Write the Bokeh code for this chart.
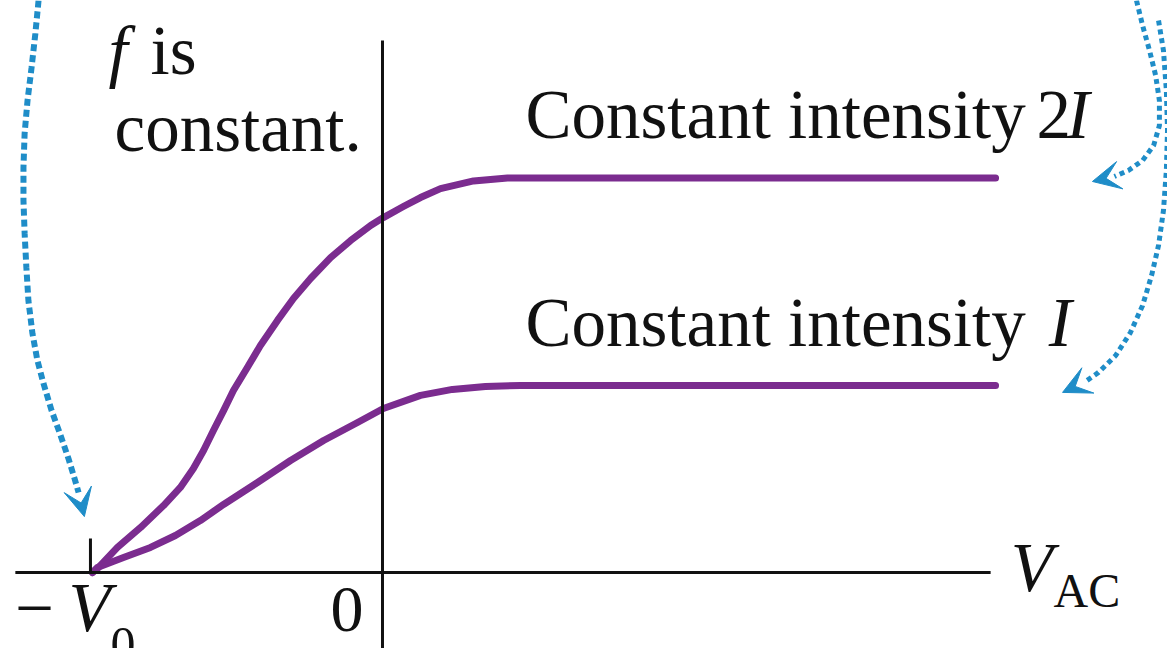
from bokeh.plotting import figure
from bokeh.models import Range1d, Label, Arrow, VeeHead
from bokeh.embed import file_html
from bokeh.resources import INLINE

# ---- data (V_AC in units of V0, current in units of the intensity-I saturation current) ----
v_2I = [-1.0, -0.983, -0.914, -0.834, -0.755, -0.697, -0.652, -0.617, -0.583, -0.548,
        -0.514, -0.466, -0.421, -0.362, -0.307, -0.248, -0.179, -0.110, -0.041, 0.003,
        0.072, 0.131, 0.200, 0.314, 0.431, 2.114]
i_2I = [0.0, 0.021, 0.134, 0.241, 0.358, 0.455, 0.556, 0.652, 0.759, 0.866,
        0.973, 1.096, 1.214, 1.348, 1.465, 1.572, 1.684, 1.775, 1.856, 1.898,
        1.957, 2.005, 2.053, 2.094, 2.110, 2.110]

v_I = [-1.0, -0.983, -0.893, -0.800, -0.714, -0.628, -0.548, -0.431, -0.317, -0.203,
       -0.086, 0.003, 0.131, 0.241, 0.355, 0.476, 2.114]
i_I = [0.0, 0.027, 0.080, 0.134, 0.198, 0.278, 0.364, 0.481, 0.599, 0.706,
       0.802, 0.877, 0.947, 0.979, 0.995, 1.0, 1.0]

stop_voltage = -1.0          # -V0
axis_labels = ["\u2212", "V", "0", "0", "V", "AC"]
curve_labels = ["Constant intensity", "2", "I", "Constant intensity", "I"]
note_labels = ["f", "is", "constant."]

# annotation arrow paths (blue dotted pointers)
arrowL_x = [-1.186, -1.197, -1.210, -1.224, -1.234, -1.238, -1.238, -1.234, -1.228, -1.221,
            -1.207, -1.190, -1.169, -1.141, -1.110, -1.083, -1.062, -1.048]
arrowL_y = [3.059, 2.882, 2.701, 2.524, 2.348, 2.166, 1.989, 1.813, 1.631, 1.455,
            1.278, 1.134, 1.011, 0.866, 0.733, 0.610, 0.503, 0.428]
arrowL_tip = (-1.028, 0.299)

arrowA_x = [2.600, 2.621, 2.645, 2.666, 2.679, 2.679, 2.659, 2.621, 2.572, 2.524]
arrowA_y = [3.059, 2.925, 2.791, 2.658, 2.524, 2.390, 2.283, 2.203, 2.150, 2.118]
arrowA_tip = (2.448, 2.091)

arrowB_x = [2.676, 2.693, 2.703, 2.707, 2.703, 2.693, 2.676, 2.652, 2.621, 2.579, 2.528, 2.469, 2.424]
arrowB_y = [2.952, 2.791, 2.578, 2.364, 2.150, 1.936, 1.749, 1.588, 1.428, 1.283, 1.160, 1.070, 1.021]
arrowB_tip = (2.345, 0.963)

# ---- styling ----
PURPLE = "#7B2C8F"
BLUE = "#1F8DC8"
INK = "#111111"
SERIF = "Liberation Serif"
PX_PER_Y = 187.0   # used only to nudge text baselines

p = figure(width=1167, height=648,
           x_range=Range1d(-1.3172, 2.7069), y_range=Range1d(-0.4064, 3.0588),
           output_backend="svg", toolbar_location=None,
           x_axis_location=None, y_axis_location=None, min_border=0)
p.grid.visible = False
p.outline_line_color = None
p.background_fill_color = "white"
p.border_fill_color = "white"

# curves
p.line(v_2I, i_2I, line_color=PURPLE, line_width=7, line_join="round", line_cap="round")
p.line(v_I, i_I, line_color=PURPLE, line_width=7, line_join="round", line_cap="round")

# axes
p.line([-1.266, 2.097], [0, 0], line_color=INK, line_width=3)
p.line([0, 0], [-0.6, 2.845], line_color=INK, line_width=3)
p.line([stop_voltage - 0.007, stop_voltage - 0.007], [0, 0.182], line_color=INK, line_width=3)

# dotted arrows
for xs, ys, tip, w, dash in [(arrowL_x, arrowL_y, arrowL_tip, 6, "7 4"),
                             (arrowA_x, arrowA_y, arrowA_tip, 5, "5 4"),
                             (arrowB_x, arrowB_y, arrowB_tip, 5, "5 4")]:
    p.line(xs, ys, line_color=BLUE, line_width=w, line_dash=dash, line_cap="butt")
    p.add_layout(Arrow(x_start=xs[-1], y_start=ys[-1], x_end=tip[0], y_end=tip[1],
                       line_alpha=0, line_width=1,
                       end=VeeHead(size=28, fill_color=BLUE, line_color=BLUE, line_width=1)))

def lab(x, y, text, size, style="normal"):
    y_adj = y + 0.36 * size / PX_PER_Y
    p.add_layout(Label(x=x, y=y_adj, text=text, text_font=SERIF, text_font_size=f"{size}px",
                       text_font_style=style, text_color=INK, text_baseline="alphabetic",
                       text_align="left"))

# note
lab(-0.945, 2.658, note_labels[0], 69, "italic")
lab(-0.800, 2.658, note_labels[1], 69)
lab(-0.924, 2.246, note_labels[2], 69)

# curve labels
lab(0.493, 2.316, curve_labels[0], 69)
lab(2.255, 2.316, curve_labels[1], 69)
lab(2.359, 2.316, curve_labels[2], 69, "italic")
lab(0.493, 1.203, curve_labels[3], 69)
lab(2.297, 1.203, curve_labels[4], 69, "italic")

# axis labels
lab(-1.266, -0.321, axis_labels[0], 69)
lab(-1.083, -0.321, axis_labels[1], 69, "italic")
lab(-0.938, -0.481, axis_labels[2], 50)
lab(-0.179, -0.326, axis_labels[3], 66)
lab(2.166, -0.107, axis_labels[4], 69, "italic")
lab(2.314, -0.187, axis_labels[5], 48)

open("out.html", "w").write(file_html(p, INLINE))
